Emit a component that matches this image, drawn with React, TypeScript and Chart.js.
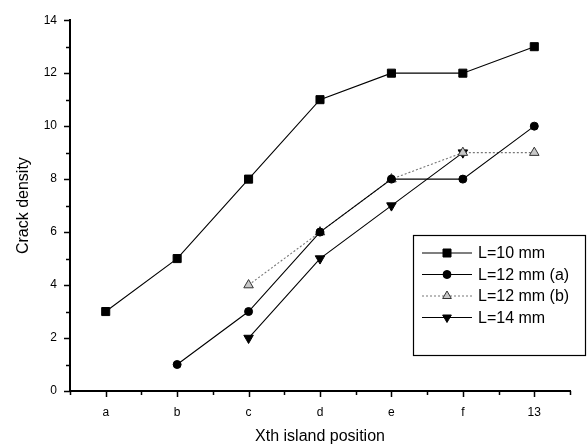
import React, { useEffect, useRef } from 'react';
import { Chart, registerables } from 'chart.js';

Chart.register(...registerables);

const categories = ['a', 'b', 'c', 'd', 'e', 'f', '13'];
const seriesLabels = ['L=10 mm', 'L=12 mm (a)', 'L=12 mm (b)', 'L=14 mm'];
const l10 = [3, 5, 8, 11, 12, 12, 13];
const l12a = [null, 1, 3, 6, 8, 8, 10];
const l12b = [null, null, 4, 6, 8, 9, 9];
const l14 = [null, null, 2, 5, 7, 9, null];
const yMin = 0;
const yMax = 14;
const xTitle = 'Xth island position';
const yTitle = 'Crack density';

const FONT = '"Liberation Sans", Arial, Helvetica, sans-serif';

type Sty = {
  color: string;
  fill: string;
  dash: number[];
  shape: 'rect' | 'circle' | 'tri' | 'tridown';
  r: number;
};
const styles: Sty[] = [
  { color: '#000', fill: '#000', dash: [], shape: 'rect', r: 4 },
  { color: '#000', fill: '#000', dash: [], shape: 'circle', r: 4 },
  { color: '#777', fill: '#c8c8c8', dash: [2, 2], shape: 'tri', r: 5 },
  { color: '#000', fill: '#000', dash: [], shape: 'tridown', r: 5 },
];

function drawMarker(ctx: CanvasRenderingContext2D, s: Sty, x: number, y: number) {
  ctx.save();
  ctx.setLineDash([]);
  ctx.fillStyle = s.fill;
  ctx.strokeStyle = s.shape === 'tri' ? '#333' : s.color;
  ctx.lineWidth = 1;
  ctx.beginPath();
  if (s.shape === 'rect') {
    ctx.rect(x - s.r, y - s.r, 2 * s.r, 2 * s.r);
  } else if (s.shape === 'circle') {
    ctx.arc(x, y, s.r, 0, Math.PI * 2);
  } else if (s.shape === 'tri') {
    ctx.moveTo(x, y - s.r);
    ctx.lineTo(x + s.r * 0.87, y + s.r * 0.5);
    ctx.lineTo(x - s.r * 0.87, y + s.r * 0.5);
    ctx.closePath();
  } else {
    ctx.moveTo(x, y + s.r);
    ctx.lineTo(x + s.r * 0.87, y - s.r * 0.5);
    ctx.lineTo(x - s.r * 0.87, y - s.r * 0.5);
    ctx.closePath();
  }
  ctx.fill();
  ctx.stroke();
  ctx.restore();
}

const axisTicks = {
  id: 'axisTicks',
  afterDraw(chart: any) {
    const { ctx, chartArea, scales } = chart;
    const x = scales.x;
    const y = scales.y;
    ctx.save();
    ctx.strokeStyle = '#000';
    ctx.lineWidth = 1.5;
    ctx.beginPath();
    for (let v = yMin; v <= yMax; v++) {
      const py = Math.round(y.getPixelForValue(v)) + 0.5;
      const len = v % 2 === 0 ? 6 : 4;
      ctx.moveTo(chartArea.left - len, py);
      ctx.lineTo(chartArea.left, py);
    }
    for (let i = 0; i < categories.length; i++) {
      const px = Math.round(x.getPixelForValue(i)) + 0.5;
      ctx.moveTo(px, chartArea.bottom);
      ctx.lineTo(px, chartArea.bottom + 6);
    }
    for (let i = 0; i <= categories.length; i++) {
      const px = Math.round(x.getPixelForValue(i - 0.5)) + 0.5;
      ctx.moveTo(px, chartArea.bottom);
      ctx.lineTo(px, chartArea.bottom + 4);
    }
    ctx.stroke();
    ctx.restore();
  },
};

const boxLegend = {
  id: 'boxLegend',
  afterDraw(chart: any) {
    const { ctx } = chart;
    const bx = 413, by = 235, bw = 172, bh = 120;
    ctx.save();
    ctx.strokeStyle = '#000';
    ctx.lineWidth = 1.2;
    ctx.strokeRect(bx + 0.5, by + 0.5, bw, bh);
    ctx.font = `16px ${FONT}`;
    ctx.fillStyle = '#000';
    ctx.textBaseline = 'middle';
    ctx.textAlign = 'left';
    seriesLabels.forEach((lab, i) => {
      const s = styles[i];
      const cy = by + 18 + i * 21.5;
      ctx.save();
      ctx.strokeStyle = s.color;
      ctx.lineWidth = 1.1;
      ctx.setLineDash(s.dash);
      ctx.beginPath();
      ctx.moveTo(bx + 9, cy);
      ctx.lineTo(bx + 59, cy);
      ctx.stroke();
      ctx.restore();
      drawMarker(ctx, s, bx + 34, cy);
      ctx.fillText(lab, bx + 65, cy + 1);
    });
    ctx.restore();
  },
};

export default function App() {
  const ref = useRef<HTMLCanvasElement>(null);
  useEffect(() => {
    if (!ref.current) return;
    Chart.defaults.font.family = FONT;
    Chart.defaults.color = '#000';
    const series = [l10, l12a, l12b, l14];
    const chart = new Chart(ref.current, {
      type: 'line',
      data: {
        labels: categories,
        datasets: series.map((d, i) => {
          const s = styles[i];
          return {
            label: seriesLabels[i],
            data: d,
            borderColor: s.color,
            borderWidth: 1.1,
            borderDash: s.dash,
            backgroundColor: s.fill,
            pointBackgroundColor: s.fill,
            pointBorderColor: s.shape === 'tri' ? '#333' : s.color,
            pointBorderWidth: 1,
            pointStyle: s.shape === 'rect' ? 'rect' : s.shape === 'circle' ? 'circle' : 'triangle',
            pointRotation: s.shape === 'tridown' ? 180 : 0,
            pointRadius: s.shape === 'rect' ? 5.7 : s.shape === 'circle' ? 4 : 5.5,
            fill: false,
            spanGaps: false,
            tension: 0,
          };
        }),
      },
      options: {
        animation: false,
        responsive: false,
        maintainAspectRatio: false,
        layout: { padding: { top: 13, right: 18, left: 0, bottom: 0 } },
        plugins: { legend: { display: false }, tooltip: { enabled: false } },
        scales: {
          x: {
            type: 'category',
            offset: true,
            grid: { display: false, drawTicks: false },
            border: { display: true, color: '#000', width: 2 },
            ticks: { padding: 14, font: { size: 12 }, color: '#000', autoSkip: false, maxRotation: 0 },
            title: { display: true, text: xTitle, font: { size: 16, lineHeight: 1 }, padding: { top: 0, bottom: 0 }, color: '#000' },
            afterFit: (s: any) => { s.height = 54; },
          },
          y: {
            min: yMin,
            max: yMax,
            grid: { display: false, drawTicks: false },
            border: { display: true, color: '#000', width: 2 },
            ticks: { stepSize: 2, padding: 13, font: { size: 12 }, color: '#000' },
            title: { display: true, text: yTitle, font: { size: 16, lineHeight: 1 }, padding: { top: 16, bottom: 0 }, color: '#000' },
            afterFit: (s: any) => { s.width = 70; },
          },
        },
      },
      plugins: [axisTicks, boxLegend],
    });
    return () => chart.destroy();
  }, []);
  return (
    <div style={{ position: 'absolute', left: 0, top: 0, width: 588, height: 445, background: '#fff' }}>
      <canvas ref={ref} width={588} height={445} style={{ display: 'block' }} />
    </div>
  );
}
